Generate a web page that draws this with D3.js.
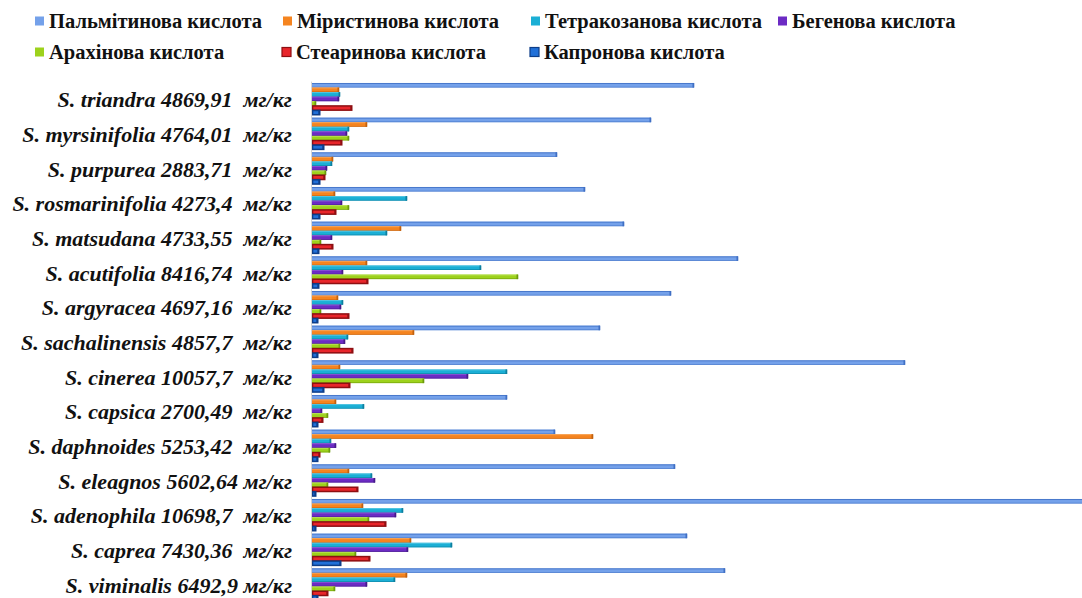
<!DOCTYPE html>
<html>
<head>
<meta charset="utf-8">
<script src="https://cdn.jsdelivr.net/npm/d3@7"></script>
<style>
  html, body { margin: 0; padding: 0; background: #fff; overflow: hidden; }
  svg { display: block; }
  text { font-family: "Liberation Serif", "Times New Roman", serif; }
</style>
</head>
<body>
<svg id="chart" width="1082" height="598"></svg>
<script>
// Categories (top to bottom)
const categories = [
  "S. triandra 4869,91  мг/кг",
  "S. myrsinifolia 4764,01  мг/кг",
  "S. purpurea 2883,71  мг/кг",
  "S. rosmarinifolia 4273,4  мг/кг",
  "S. matsudana 4733,55  мг/кг",
  "S. acutifolia 8416,74  мг/кг",
  "S. argyracea 4697,16  мг/кг",
  "S. sachalinensis 4857,7  мг/кг",
  "S. cinerea 10057,7  мг/кг",
  "S. capsica 2700,49  мг/кг",
  "S. daphnoides 5253,42  мг/кг",
  "S. eleagnos 5602,64 мг/кг",
  "S. adenophila 10698,7  мг/кг",
  "S. caprea 7430,36  мг/кг",
  "S. viminalis 6492,9 мг/кг"
];

const seriesNames = [
  "Пальмітинова кислота",
  "Міристинова кислота",
  "Тетракозанова кислота",
  "Бегенова кислота",
  "Арахінова кислота",
  "Стеаринова кислота",
  "Капронова кислота"
];

// Values (mg/kg), one array per acid, in category order
const palmitic   = [3438, 3051, 2205, 2457, 2808, 3834, 3231, 2592, 5337, 1755, 2187, 3267, 7605, 3375, 3717];
const myristic   = [ 243,  495,  189,  207,  801,  495,  234,  918,  252,  216, 2529,  333,  459,  891,  855];
const lignoceric = [ 252,  333,  180,  855,  675, 1521,  279,  324, 1755,  468,  171,  540,  819, 1260,  747];
const behenic    = [ 243,  315,  135,  270,  180,  279,  261,  297, 1404,   90,  216,  567,  756,  864,  495];
const arachidic  = [  36,  333,  126,  333,   81, 1854,   81,  252, 1008,  144,  162,  144,  513,  396,  207];
const stearic    = [ 351,  261,  108,  207,  180,  495,  324,  360,  333,   90,   63,  405,  657,  513,  135];
const caproic    = [  63,   99,   63,   63,   54,   54,   45,   45,   99,   45,   45,   27,   27,  252,   45];

const seriesValues = [palmitic, myristic, lignoceric, behenic, arachidic, stearic, caproic];

const fills   = ["#74a1ea", "#f5841f", "#1bafd5", "#6c2bc4", "#9dd21c", "#e8262b", "#2170d8"];
const darks   = ["#3f6fc4", "#c0600e", "#0d7f9e", "#451a88", "#6c9a0c", "#8e0f12", "#0d3d88"];
const lights  = ["#9cbcf2", "#f8a65a", "#5cc8e4", "#8c55d6", "#bde35a", "#f0595d", "#5c96e6"];

const svg = d3.select("#chart");

const x = d3.scaleLinear().domain([0, 9000]).range([312, 1312]);

const y = d3.scaleBand()
  .domain(categories)
  .range([81.6, 601.6])
  .paddingInner(0.08)
  .paddingOuter(0.04);

const ys = d3.scaleBand()
  .domain(d3.range(seriesNames.length))
  .range([0, y.bandwidth()])
  .padding(0);

// faint axis line
svg.append("line")
  .attr("x1", x(0) - 0.5).attr("x2", x(0) - 0.5)
  .attr("y1", y.range()[0]).attr("y2", 598)
  .attr("stroke", "#d4d4d4").attr("stroke-width", 1);

// bars
const rows = [];
categories.forEach((c, ci) => {
  seriesValues.forEach((arr, si) => {
    rows.push({ cat: c, si, v: arr[ci] });
  });
});

const g = svg.append("g");
const bars = g.selectAll("g.bar").data(rows).join("g").attr("class", "bar")
  .attr("transform", d => `translate(0,${y(d.cat) + ys(d.si)})`);

const bh = ys.bandwidth();

bars.each(function(d) {
  const sel = d3.select(this);
  const x0 = x(0), w = Math.max(1, x(d.v) - x(0));
  const outlined = (d.si === 5 || d.si === 6);
  if (outlined) {
    sel.append("rect")
      .attr("x", x0).attr("y", -0.6).attr("width", w + 1.5).attr("height", bh + 1.2)
      .attr("fill", darks[d.si]);
    sel.append("rect")
      .attr("x", x0 + 1.3).attr("y", 0.9).attr("width", Math.max(0.5, w - 2)).attr("height", bh - 1.8)
      .attr("fill", fills[d.si]);
  } else {
    sel.append("rect")
      .attr("x", x0).attr("y", 0).attr("width", w).attr("height", bh)
      .attr("fill", fills[d.si]);
    sel.append("rect")
      .attr("x", x0).attr("y", 0).attr("width", w).attr("height", 1)
      .attr("fill", d.si === 0 ? darks[d.si] : lights[d.si]).attr("opacity", 0.8);
    sel.append("rect")
      .attr("x", x0).attr("y", bh - 0.8).attr("width", w).attr("height", 0.8)
      .attr("fill", darks[d.si]).attr("opacity", 0.7);
    sel.append("rect")
      .attr("x", x0 + w - 1.5).attr("y", 0).attr("width", 1.8).attr("height", bh)
      .attr("fill", darks[d.si]);
  }
});

// category axis
const axis = d3.axisLeft(y).tickSize(0).tickPadding(20);
const ax = svg.append("g").attr("transform", `translate(${x(0)},0)`).call(axis);
ax.select(".domain").remove();
ax.selectAll("text")
  .attr("font-family", "'Liberation Serif', 'Times New Roman', serif")
  .attr("font-size", 22)
  .attr("font-weight", "bold")
  .attr("font-style", "italic")
  .attr("fill", "#111")
  .attr("dy", "0.38em")
  .style("white-space", "pre");

// legend
const legendPos = [
  [35, 21], [283, 21], [531, 21], [778, 21],
  [35, 52], [282, 52], [530, 52]
];
const lg = svg.append("g").selectAll("g").data(seriesNames).join("g")
  .attr("transform", (d, i) => `translate(${legendPos[i][0]},${legendPos[i][1]})`);
lg.append("rect")
  .attr("x", 0).attr("y", -4.5).attr("width", 9).attr("height", 9)
  .attr("fill", (d, i) => fills[i])
  .attr("stroke", (d, i) => (i === 5 || i === 6) ? darks[i] : "none")
  .attr("stroke-width", 1.2);
lg.append("text")
  .attr("x", 14).attr("y", 0).attr("dy", "0.35em")
  .attr("font-size", 20.5).attr("font-weight", "bold")
  .attr("fill", "#111")
  .text(d => d);
</script>
</body>
</html>
